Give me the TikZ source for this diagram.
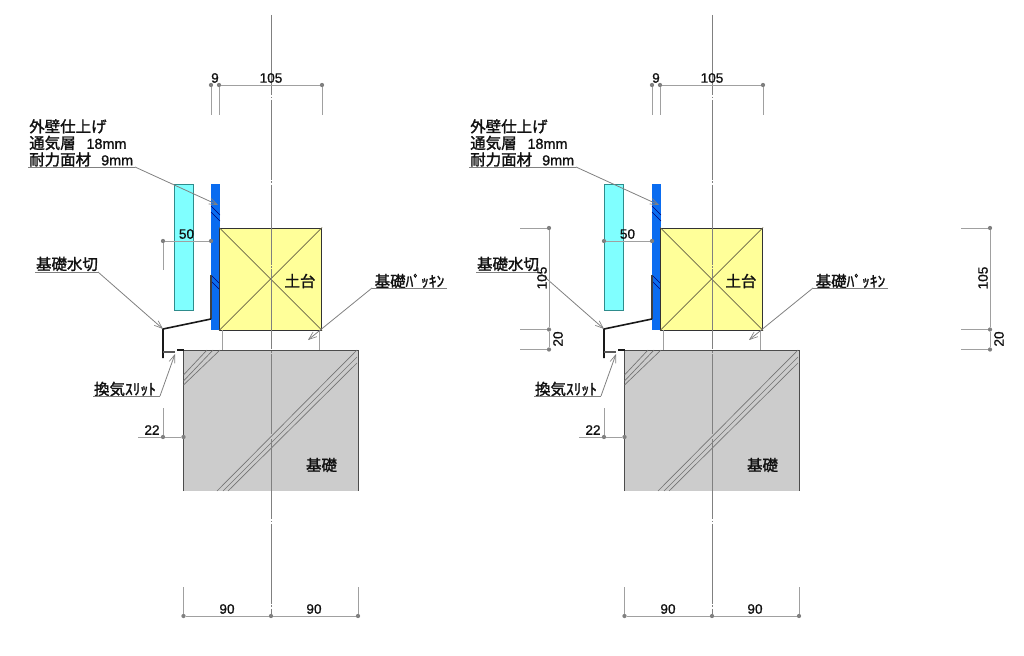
\documentclass[tikz,border=0pt]{standalone}
\usepackage{fontspec}
\setmainfont[FakeBold=1.0]{Liberation Sans}
\newfontfamily\jpfont[FakeBold=1.6]{Noto Sans CJK JP}
\usetikzlibrary{arrows.meta}
\definecolor{dimgray}{HTML}{A0A0A0}
\definecolor{cladfill}{HTML}{80FFFF}
\definecolor{cladedge}{HTML}{2E8C8C}
\definecolor{boardfill}{HTML}{0A6CF0}
\definecolor{sillfill}{HTML}{FFFF99}
\definecolor{concfill}{HTML}{CCCCCC}
\definecolor{txtcol}{HTML}{111111}
\tikzset{
  dimdot/.style={circle,fill=dimgray!80!black,draw=none,inner sep=0pt,minimum size=3.2pt},
  dimline/.style={draw=dimgray,line width=0.7pt},
  extline/.style={draw=dimgray,line width=0.7pt},
  noline/.style={draw=none},
  jplabel/.style={font=\jpfont\fontsize{11.6pt}{12.4pt}\selectfont,text=txtcol,inner sep=0pt},
  numlabel/.style={font=\fontsize{10.2pt}{12pt}\selectfont,text=txtcol,inner sep=0pt},
  leaderline/.style={draw=dimgray!80!black,line width=0.6pt},
  leaderarrow/.style={leaderline,-{Straight Barb[length=6pt,width=4.5pt,line width=0.5pt]}},
  hatchline/.style={draw=black!55,line width=0.5pt},
  thinhatch/.style={draw=black!55!blue,line width=0.5pt},
  flashing/.style={draw=black!90,line width=1.2pt},
  centerline/.style={draw=black!50,line width=0.6pt,dash pattern=on 60pt off 1.2pt on 1.2pt off 1.2pt},
  outline/.style={draw=black!70,line width=0.75pt},
  sillcross/.style={draw=black!55!yellow!70!black,line width=0.5pt}
}
\newcommand{\DetailBody}[2]{%
  % cladding, board
  \node[draw=cladedge,fill=cladfill,line width=0.7pt,inner sep=0pt,minimum width=14.6pt,minimum height=94.5pt] (clad) at (#1,247) {};
  \node[fill=boardfill,draw=none,inner sep=0pt,minimum width=6.8pt,minimum height=109.5pt] (board) at (215.5,257) {};
  \foreach \a/\b/\c/\d in {211/206/220/215,211/212/220/221,211/275/220/284,211/281/220/290}
    \draw[thinhatch] (\a,\b) -- (\c,\d);
  \draw[black!75,line width=0.8pt] (211,275) -- (211,319);
  % sill
  \node[fill=sillfill,draw=black!80,line width=0.75pt,inner sep=0pt,minimum size=76.5pt] (sill) at (270.7,279) {};
  \draw[sillcross] (sill.north west) -- (sill.south east);
  \draw[sillcross] (sill.north east) -- (sill.south west);
  % concrete
  \fill[concfill] (183.5,350) rectangle (358,491);
  \coordinate (cTL) at (183.5,350);
  \coordinate (cTR) at (358,350);
  \coordinate (cBL) at (183.5,491);
  \coordinate (cBR) at (358,491);
  \draw[outline] (cBL) -- (cTL) -- (cTR) -- (cBR);
  \foreach \a/\b/\c/\d in {183.5/375/207/350,183.5/381/213/350,183.5/385/220/350,217/491/357/350,223/491/357/357,228/491/357/363}
    \draw[hatchline] (\a,\b) -- (\c,\d);
  % gap lines between sill and concrete
  \draw[extline] (222,330) -- (222,350);
  \draw[extline] (319,330) -- (319,350);
  % flashing
  \coordinate (f1) at (211,319);
  \coordinate (f2) at (163,329);
  \coordinate (f3) at (163,358);
  \draw[flashing] (f1) -- (f2) -- (f3);
  \draw[draw=black!65,line width=0.8pt] (163,352) -- (175,352);
  \draw[flashing] (177,350) -- (183.5,350);
  % centre line
  \coordinate (cT) at (271,15);
  \node[dimdot] (dB2) at (271,616) {};
  \draw[centerline] (cT) -- (dB2);
  % top dimensions
  \node[dimdot] (dT1) at (211,85) {};
  \node[dimdot] (dT2) at (219,85) {};
  \node[dimdot] (dT3) at (322,85) {};
  \coordinate (eT1) at (211,115);
  \coordinate (eT2) at (219,115);
  \coordinate (eT3) at (322,115);
  \draw[dimline] (dT2) -- (dT3);
  \draw[extline] (dT1) -- (eT1);
  \draw[extline] (dT2) -- (eT2);
  \draw[extline] (dT3) -- (eT3);
  \node[numlabel] (n9) at (215,78) {9};
  \node[numlabel] (n105) at (271,78) {105};
  % 50
  \node[dimdot] (d50a) at (163,241) {};
  \node[dimdot] (d50b) at (211,241) {};
  \coordinate (e50) at (163,270);
  \draw[dimline] (d50a) -- (d50b);
  \draw[#2] (d50a) -- (e50);
  \node[numlabel] (n50) at (186.5,234) {50};
  % 22
  \node[dimdot] (d22a) at (163,437) {};
  \node[dimdot] (d22b) at (183.5,437) {};
  \coordinate (e22a) at (138,437);
  \coordinate (e22b) at (163,408);
  \draw[dimline] (e22a) -- (d22a) -- (d22b);
  \draw[extline] (d22a) -- (e22b);
  \node[numlabel] (n22) at (152,430) {22};
  % bottom dimensions
  \node[dimdot] (dB1) at (183.5,616) {};
  \node[dimdot] (dB3) at (358,616) {};
  \coordinate (eB1) at (183.5,587);
  \coordinate (eB3) at (358,587);
  \draw[dimline] (dB1) -- (dB2) -- (dB3);
  \draw[extline] (dB1) -- (eB1);
  \draw[extline] (dB3) -- (eB3);
  \node[numlabel] (n90a) at (227,609) {90};
  \node[numlabel] (n90b) at (314,609) {90};
  % labels
  \node[jplabel,align=left,anchor=north west] (wall) at (29,119) {外壁仕上げ\\通気層\hspace{0.7em}{\rmfamily\fontsize{10.8pt}{12.4pt}\selectfont 18mm}\\耐力面材\hspace{0.65em}{\rmfamily\fontsize{10.8pt}{12.4pt}\selectfont 9mm}};
  \coordinate (wa) at (28,167);
  \coordinate (wb) at (135,167);
  \coordinate (wc) at (218,205);
  \draw[leaderline] (wa) -- (wb);
  \draw[leaderarrow] (wb) -- (wc);
  \node[jplabel] (mizu) at (67,264) {基礎水切};
  \coordinate (ma) at (35,272);
  \coordinate (mb) at (98,272);
  \draw[leaderline] (ma) -- (mb);
  \draw[leaderarrow] (mb) -- (f2);
  \node[jplabel] (slit) at (125,389) {換気ｽﾘｯﾄ};
  \coordinate (sa) at (93,396);
  \coordinate (sb) at (160,396);
  \coordinate (sc) at (175,354);
  \draw[leaderline] (sa) -- (sb);
  \draw[leaderarrow] (sb) -- (sc);
  \node[jplabel] (pack) at (409.5,281) {基礎ﾊﾟｯｷﾝ};
  \coordinate (pa) at (447,288);
  \coordinate (pb) at (372,288);
  \coordinate (pc) at (308,340);
  \draw[leaderline] (pa) -- (pb);
  \draw[leaderarrow] (pb) -- (pc);
  \node[jplabel] (dodai) at (300,281) {土台};
  \node[jplabel] (kiso) at (321.5,465) {基礎};
}
\newcommand{\SideDims}[1]{%
  \begin{scope}[shift={(#1,0)},name prefix=S#1]
  \node[dimdot] (a) at (0,228) {};
  \node[dimdot] (b) at (0,329.5) {};
  \node[dimdot] (c) at (0,349.5) {};
  \coordinate (ea) at (-29,228);
  \coordinate (eb) at (-29,329.5);
  \coordinate (ec) at (-29,349.5);
  \draw[dimline] (a) -- (b) -- (c);
  \draw[extline] (ea) -- (a);
  \draw[extline] (eb) -- (b);
  \draw[extline] (ec) -- (c);
  \node[numlabel,rotate=90] (t1) at (-7,278) {105};
  \node[numlabel,rotate=90] (t2) at (9,339) {20};
  \end{scope}
}
\begin{document}
\begin{tikzpicture}[x=0.75pt,y=-0.75pt]
\useasboundingbox (0,0) rectangle (1024,656);
\begin{scope}[name prefix=L]
\DetailBody{183.8}{extline}
\end{scope}
\begin{scope}[shift={(441,0)},name prefix=R]
\DetailBody{172.7}{noline}
\end{scope}
\SideDims{549}
\SideDims{990}
\end{tikzpicture}
\end{document}
